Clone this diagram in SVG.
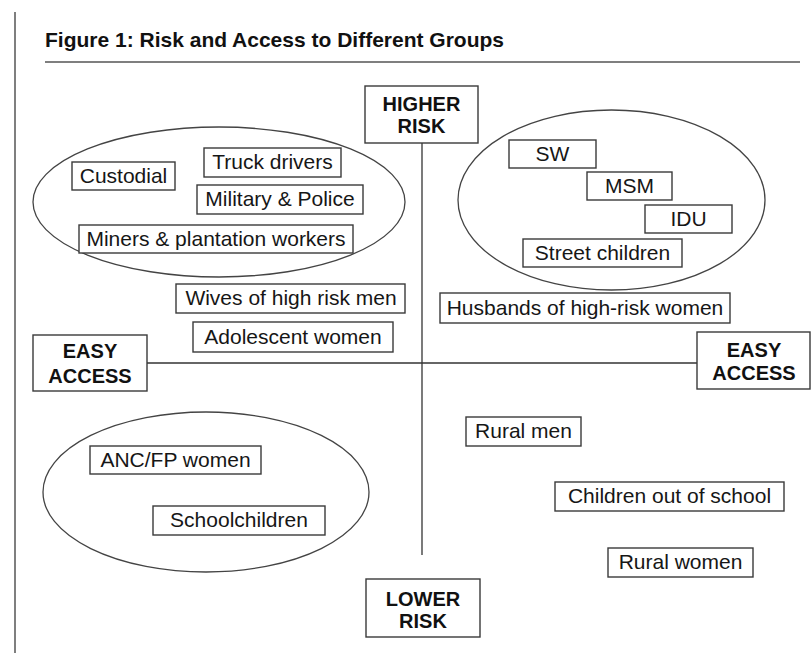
<svg xmlns="http://www.w3.org/2000/svg" width="811" height="653" viewBox="0 0 811 653">
<style>
  .bg { fill: #ffffff; }
  .box { fill: #ffffff; stroke: #3a3a3a; stroke-width: 1.4; }
  .ell { fill: none; stroke: #444444; stroke-width: 1.3; }
  .axis { stroke: #333333; stroke-width: 1.3; fill: none; }
  .lbl { font-family: "Liberation Sans", Arial, Helvetica, sans-serif; font-size: 21px; fill: #161616; text-anchor: middle; }
  .bold { font-family: "Liberation Sans", Arial, Helvetica, sans-serif; font-size: 20px; font-weight: bold; fill: #111111; text-anchor: middle; }
  .title { font-family: "Liberation Sans", Arial, Helvetica, sans-serif; font-size: 21px; font-weight: bold; fill: #111111; }
</style>
<rect class="bg" x="0" y="0" width="811" height="653"/>
<line x1="15" y1="12" x2="15" y2="653" stroke="#555555" stroke-width="1.5"/>
<text class="title" x="45" y="47">Figure 1: Risk and Access to Different Groups</text>
<line x1="45" y1="62" x2="800" y2="62" stroke="#555555" stroke-width="1.6"/>

<g id="connectors">
  <line class="axis" x1="422" y1="143" x2="422" y2="555"/>
  <line class="axis" x1="147" y1="363" x2="697" y2="363"/>
</g>

<g id="ellipses">
  <ellipse class="ell" cx="219" cy="202" rx="186" ry="75"/>
  <ellipse class="ell" cx="611.5" cy="200" rx="153.5" ry="90"/>
  <ellipse class="ell" cx="206" cy="492" rx="163" ry="80"/>
</g>

<g id="higher-risk">
  <rect class="box" x="365" y="86" width="113" height="57"/>
  <text class="bold" x="421.5" y="111">HIGHER</text>
  <text class="bold" x="421.5" y="133">RISK</text>
</g>
<g id="lower-risk">
  <rect class="box" x="366" y="579" width="114" height="58"/>
  <text class="bold" x="423" y="606">LOWER</text>
  <text class="bold" x="423" y="628">RISK</text>
</g>
<g id="easy-access-left">
  <rect class="box" x="33" y="335" width="114" height="56"/>
  <text class="bold" x="90" y="358">EASY</text>
  <text class="bold" x="90" y="383">ACCESS</text>
</g>
<g id="easy-access-right">
  <rect class="box" x="697" y="332" width="113" height="57"/>
  <text class="bold" x="754" y="357">EASY</text>
  <text class="bold" x="754" y="380">ACCESS</text>
</g>

<g id="custodial">
  <rect class="box" x="72" y="162" width="103" height="28"/>
  <text class="lbl" x="123.5" y="183">Custodial</text>
</g>
<g id="truck-drivers">
  <rect class="box" x="204" y="148" width="137" height="29"/>
  <text class="lbl" x="272.5" y="169">Truck drivers</text>
</g>
<g id="military-police">
  <rect class="box" x="197" y="185" width="166" height="29"/>
  <text class="lbl" x="280" y="206">Military &amp; Police</text>
</g>
<g id="miners">
  <rect class="box" x="79" y="225" width="274" height="28"/>
  <text class="lbl" x="216" y="246">Miners &amp; plantation workers</text>
</g>
<g id="wives">
  <rect class="box" x="176" y="284" width="229" height="29"/>
  <text class="lbl" x="291" y="305">Wives of high risk men</text>
</g>
<g id="adolescent-women">
  <rect class="box" x="193" y="322" width="200" height="30"/>
  <text class="lbl" x="293" y="344">Adolescent women</text>
</g>

<g id="sw">
  <rect class="box" x="509" y="140" width="87" height="28"/>
  <text class="lbl" x="552.5" y="161">SW</text>
</g>
<g id="msm">
  <rect class="box" x="587" y="172" width="85" height="28"/>
  <text class="lbl" x="629.5" y="193">MSM</text>
</g>
<g id="idu">
  <rect class="box" x="645" y="205" width="87" height="28"/>
  <text class="lbl" x="688.5" y="226">IDU</text>
</g>
<g id="street-children">
  <rect class="box" x="523" y="239" width="159" height="28"/>
  <text class="lbl" x="602.5" y="260">Street children</text>
</g>
<g id="husbands">
  <rect class="box" x="440" y="293" width="290" height="30"/>
  <text class="lbl" x="585" y="315">Husbands of high-risk women</text>
</g>

<g id="anc-fp-women">
  <rect class="box" x="90" y="446" width="171" height="28"/>
  <text class="lbl" x="175.5" y="467">ANC/FP women</text>
</g>
<g id="schoolchildren">
  <rect class="box" x="153" y="506" width="172" height="29"/>
  <text class="lbl" x="239" y="527">Schoolchildren</text>
</g>

<g id="rural-men">
  <rect class="box" x="466" y="417" width="115" height="29"/>
  <text class="lbl" x="523.5" y="438">Rural men</text>
</g>
<g id="children-out-of-school">
  <rect class="box" x="555" y="482" width="229" height="29"/>
  <text class="lbl" x="669.5" y="503">Children out of school</text>
</g>
<g id="rural-women">
  <rect class="box" x="608" y="548" width="145" height="29"/>
  <text class="lbl" x="680.5" y="569">Rural women</text>
</g>
</svg>
